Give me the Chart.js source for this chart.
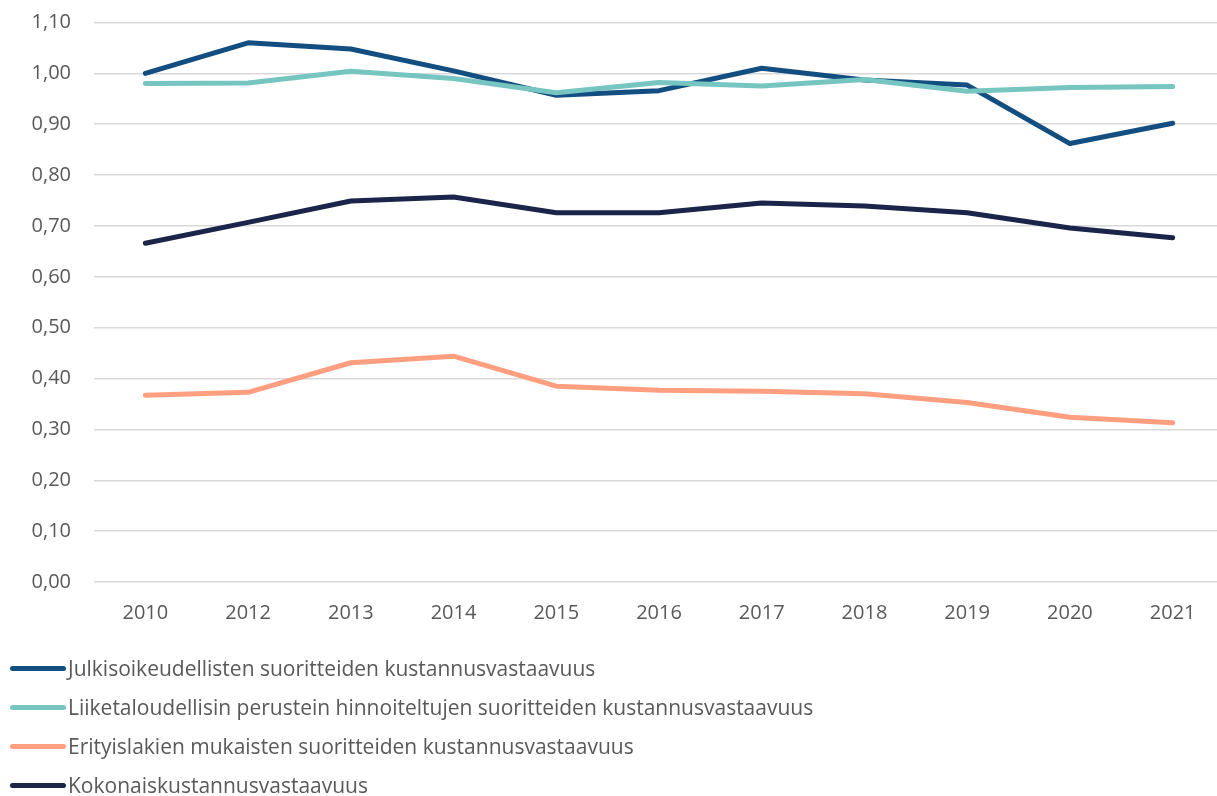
<!DOCTYPE html>
<html>
<head>
<meta charset="utf-8">
<script src="https://cdn.jsdelivr.net/npm/chart.js@4/dist/chart.umd.min.js"></script>
<style>
  html, body { margin: 0; padding: 0; background: #fff; overflow: hidden; width: 1217px; height: 796px; }
  #wrap { position: absolute; left: 0; top: 0; width: 1230px; height: 644px; }
  #legend { position: absolute; left: 0; top: 0; width: 1217px; height: 796px; pointer-events: none; }
  .item { position: absolute; left: 10px; height: 28px; display: flex; align-items: center;
          font-family: "Open Sans", sans-serif; font-size: 21px; color: #595959; white-space: nowrap; }
  .swatch { width: 56px; height: 5px; border-radius: 3px; margin-right: 2px; }
</style>
</head>
<body>
<div id="wrap"><canvas id="c"></canvas></div>
<div id="legend"></div>
<script>
const categories = ['2010','2012','2013','2014','2015','2016','2017','2018','2019','2020','2021'];

const julkisoikeudelliset = [1.00, 1.06, 1.048, 1.005, 0.957, 0.966, 1.01, 0.987, 0.977, 0.862, 0.902];
const liiketaloudelliset  = [0.980, 0.981, 1.004, 0.990, 0.962, 0.982, 0.975, 0.988, 0.965, 0.972, 0.974];
const erityislait         = [0.367, 0.373, 0.431, 0.444, 0.385, 0.377, 0.375, 0.370, 0.353, 0.324, 0.313];
const kokonais            = [0.666, 0.707, 0.749, 0.757, 0.726, 0.726, 0.745, 0.739, 0.726, 0.696, 0.677];

const seriesNames = [
  'Julkisoikeudellisten suoritteiden kustannusvastaavuus',
  'Liiketaloudellisin perustein hinnoiteltujen suoritteiden kustannusvastaavuus',
  'Erityislakien mukaisten suoritteiden kustannusvastaavuus',
  'Kokonaiskustannusvastaavuus'
];
const yTickLabels = ['0,00','0,10','0,20','0,30','0,40','0,50','0,60','0,70','0,80','0,90','1,00','1,10'];

const colors = ['#124E80', '#76C5C1', '#FF9F80', '#1A2549'];
const seriesData = [julkisoikeudelliset, liiketaloudelliset, erityislait, kokonais];
const drawOrder = [4, 3, 2, 1];

const datasets = seriesData.map((d, i) => ({
  label: seriesNames[i],
  data: d,
  borderColor: colors[i],
  backgroundColor: colors[i],
  borderWidth: 5,
  pointRadius: 0,
  pointHoverRadius: 0,
  tension: 0,
  borderCapStyle: 'round',
  borderJoinStyle: 'round',
  fill: false,
  order: drawOrder[i]
}));

const tickFont = { family: '"Open Sans", sans-serif', size: 20 };

new Chart(document.getElementById('c'), {
  type: 'line',
  data: { labels: categories, datasets },
  options: {
    responsive: true,
    maintainAspectRatio: false,
    animation: false,
    layout: { padding: { top: 22.5, right: 6, left: 0, bottom: 0 } },
    plugins: { legend: { display: false }, tooltip: { enabled: false } },
    scales: {
      x: {
        offset: true,
        grid: { display: false, drawTicks: false },
        border: { display: false },
        ticks: { color: '#595959', font: tickFont, padding: 19, maxRotation: 0 }
      },
      y: {
        min: 0, max: 1.1,
        grid: { color: '#D9D9D9', lineWidth: 1.5, drawTicks: false },
        border: { display: false },
        afterFit: s => { s.width = 94; s.paddingTop = 0; s.paddingBottom = 0; },
        ticks: {
          stepSize: 0.1,
          color: '#595959',
          font: tickFont,
          padding: 23,
          callback: (v, i) => yTickLabels[i]
        }
      }
    }
  }
});

const legend = document.getElementById('legend');
const rowY = [668, 707, 746, 785];
seriesNames.forEach((name, i) => {
  const it = document.createElement('div');
  it.className = 'item';
  it.style.top = (rowY[i] - 14) + 'px';
  const sw = document.createElement('div');
  sw.className = 'swatch';
  sw.style.background = colors[i];
  const tx = document.createElement('span');
  tx.textContent = name;
  it.appendChild(sw); it.appendChild(tx);
  legend.appendChild(it);
});
</script>
</body>
</html>
